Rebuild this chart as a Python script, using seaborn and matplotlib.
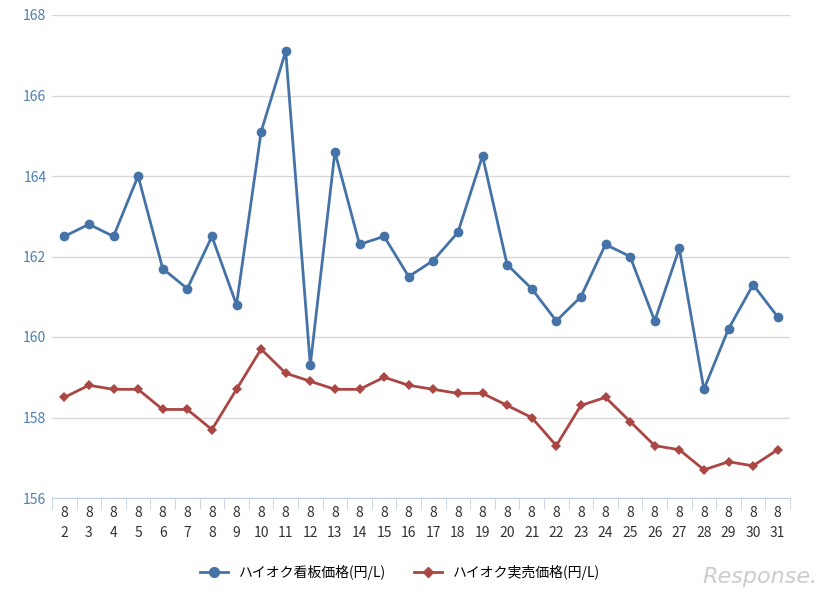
import matplotlib
matplotlib.use("Agg")
import matplotlib.pyplot as plt
import seaborn as sns
import pandas as pd
import numpy as np

days = list(range(2, 32))
labels = [f"8\n{d}" for d in days]
kanban = [162.5, 162.8, 162.5, 164.0, 161.7, 161.2, 162.5, 160.8, 165.1, 167.1, 159.3, 164.6, 162.3, 162.5, 161.5,
          161.9, 162.6, 164.5, 161.8, 161.2, 160.4, 161.0, 162.3, 162.0, 160.4, 162.2, 158.7, 160.2, 161.3, 160.5]
jitsubai = [158.5, 158.8, 158.7, 158.7, 158.2, 158.2, 157.7, 158.7, 159.7, 159.1, 158.9, 158.7, 158.7, 159.0, 158.8,
            158.7, 158.6, 158.6, 158.3, 158.0, 157.3, 158.3, 158.5, 157.9, 157.3, 157.2, 156.7, 156.9, 156.8, 157.2]
s1 = "ハイオク看板価格(円/L)"
s2 = "ハイオク実売価格(円/L)"

plt.rcParams["font.family"] = "Noto Sans CJK JP"
fig = plt.figure(figsize=(8.3, 6.02), dpi=100)
ax = fig.add_axes([52/830, 1-498/602, (790-52)/830, (498-15)/602])
x = np.arange(len(days))
df = pd.DataFrame({"x": np.concatenate([x, x]), "v": kanban + jitsubai,
                   "s": [s1]*len(x) + [s2]*len(x)})
sns.lineplot(data=df, x="x", y="v", hue="s", style="s", markers={s1: "o", s2: "D"}, dashes=False,
             palette={s1: "#4572a7", s2: "#aa4643"}, markersize=7, linewidth=2, ax=ax,
             markeredgewidth=0, legend=False)
ax.lines[1].set_markersize(5)
ax.set_xlim(-0.5, len(x)-0.5)
ax.set_ylim(156, 168)
ax.set_yticks(range(156, 169, 2))
ax.set_xticks(x)
ax.set_xticklabels(labels, fontsize=10, color="#333333", linespacing=1.5)
ax.set_xticks(np.arange(-0.5, len(x), 1), minor=True)
ax.tick_params(axis="x", which="major", length=0, pad=6)
ax.tick_params(axis="x", which="minor", length=8, color="#c0d0e0")
ax.tick_params(axis="y", length=0, labelsize=10, labelcolor="#4d7fb3", pad=4)
ax.grid(axis="y", color="#d8d8d8", linewidth=1)
ax.set_axisbelow(True)
for sp in ["top", "right", "left"]:
    ax.spines[sp].set_visible(False)
ax.spines["bottom"].set_color("#c0d0e0")
ax.set_xlabel(""); ax.set_ylabel("")
from matplotlib.lines import Line2D
h = [Line2D([], [], color="#4572a7", marker="o", lw=2, ms=7),
     Line2D([], [], color="#aa4643", marker="D", lw=2, ms=5)]
fig.legend(h, [s1, s2], loc="center", bbox_to_anchor=(400/830, 1-572/602), ncol=2, frameon=False,
           fontsize=10, handlelength=2, columnspacing=2)
fig.text(0.985, 0.025, "Response.", ha="right", va="bottom", fontsize=16, color="#cccccc", style="italic", fontfamily="DejaVu Sans")
fig.savefig("out.png", dpi=100)
